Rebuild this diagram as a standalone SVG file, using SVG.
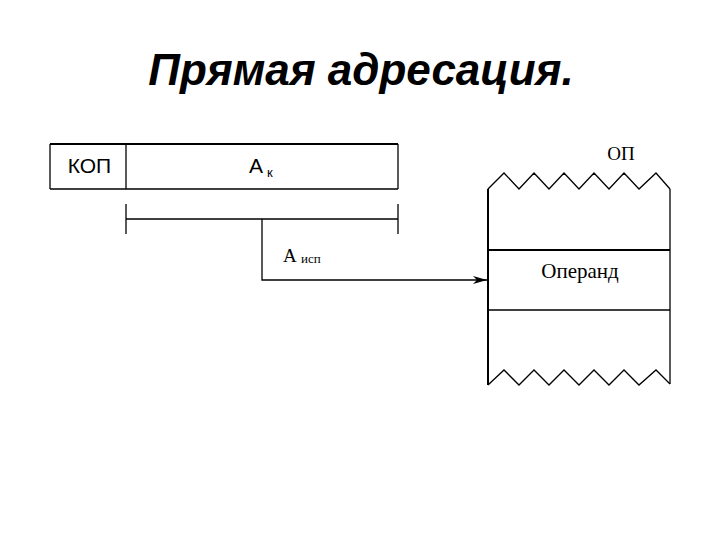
<svg xmlns="http://www.w3.org/2000/svg" width="720" height="540" viewBox="0 0 720 540">
<style>
.ln{stroke:#000;fill:none;stroke-width:1.3}
.th{stroke:#000;fill:none;stroke-width:2}
.sans{font-family:"Liberation Sans",Arial,sans-serif;fill:#000}
.serif{font-family:"Liberation Serif","Times New Roman",serif;fill:#000}
</style>
<defs>
<marker id="arr" markerWidth="14" markerHeight="8" refX="14" refY="4" orient="auto" markerUnits="userSpaceOnUse">
<path d="M0,0 L14,4 L0,8 L4,4 Z" fill="#000"/>
</marker>
</defs>
<rect width="720" height="540" fill="#fff"/>
<text class="sans" x="361" y="85" font-size="44" font-weight="bold" font-style="italic" text-anchor="middle">Прямая адресация.</text>
<g id="instr">
<line class="th" x1="50" y1="144" x2="398" y2="144"/>
<line class="ln" x1="50" y1="189" x2="398" y2="189"/>
<line class="ln" x1="50" y1="144" x2="50" y2="189"/>
<line class="ln" x1="398" y1="144" x2="398" y2="189"/>
<line class="ln" x1="126" y1="144" x2="126" y2="189"/>
<text class="sans" x="89.5" y="173" font-size="21" text-anchor="middle">КОП</text>
<text class="sans" x="249" y="173" font-size="21">А</text>
<text class="sans" x="267" y="177" font-size="13">к</text>
</g>
<g id="brace">
<line class="ln" x1="126" y1="219" x2="398" y2="219"/>
<line class="ln" x1="126" y1="204" x2="126" y2="234"/>
<line class="ln" x1="398" y1="204" x2="398" y2="234"/>
</g>
<g id="addr">
<text class="serif" x="283" y="262" font-size="19">А</text>
<text class="serif" x="301" y="263" font-size="13">исп</text>
</g>
<g id="memory">
<path class="ln" d="M488,189 L504,173 L519,189 L534,173 L549,189 L564,173 L579,189 L594,173 L609,189 L624,173 L639,189 L656,173 L670,189"/>
<path class="ln" d="M488,385 L504,370 L519,385 L534,370 L549,385 L564,370 L579,385 L594,370 L609,385 L624,370 L639,385 L656,370 L670,384"/>
<line class="th" x1="488" y1="189" x2="488" y2="385"/>
<line class="ln" x1="670" y1="189" x2="670" y2="384"/>
<line class="th" x1="488" y1="250" x2="670" y2="250"/>
<line class="ln" x1="488" y1="310" x2="670" y2="310"/>
<text class="serif" x="621" y="160" font-size="19" text-anchor="middle">ОП</text>
<text class="serif" x="580" y="278" font-size="21" text-anchor="middle">Операнд</text>
</g>
<g id="connectors">
<path class="ln" d="M262,219 L262,280 L487,280" marker-end="url(#arr)"/>
</g>
</svg>
